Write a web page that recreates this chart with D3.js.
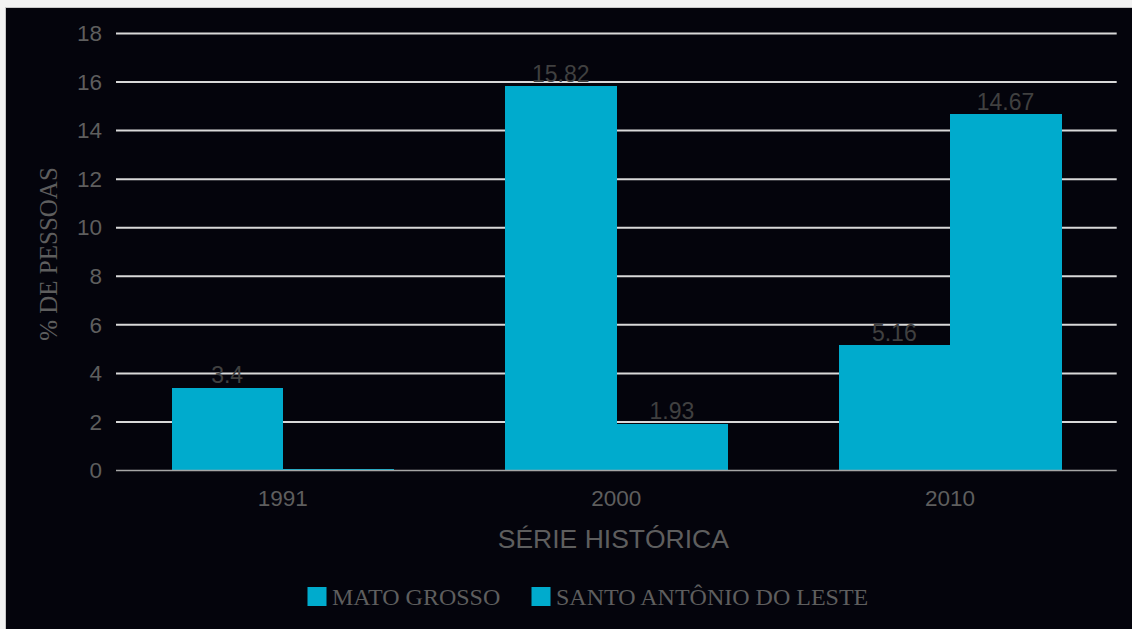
<!DOCTYPE html>
<html>
<head>
<meta charset="utf-8">
<script src="https://cdn.jsdelivr.net/npm/d3@7"></script>
<style>
  html, body { margin: 0; padding: 0; background: #ffffff; }
  svg { display: block; }
</style>
</head>
<body>
<svg id="chart" width="1132" height="629"></svg>
<script>
const categories = ["1991", "2000", "2010"];
const seriesNames = ["MATO GROSSO", "SANTO ANTÔNIO DO LESTE"];
const matoGrosso = [3.4, 15.82, 5.16];
const santoAntonio = [0.07, 1.93, 14.67];
const matoGrossoLabels = ["3.4", "15.82", "5.16"];
const santoAntonioLabels = [null, "1.93", "14.67"];
const yTicks = [0, 2, 4, 6, 8, 10, 12, 14, 16, 18];

const W = 1132, H = 629;
const svg = d3.select("#chart");

// background panel
svg.append("rect").attr("x", 0).attr("y", 0).attr("width", W).attr("height", H).attr("fill", "#f2f2f2");
svg.append("rect").attr("x", 5.5).attr("y", 7.5).attr("width", W).attr("height", H)
  .attr("fill", "#04040c").attr("stroke", "#c8c8c8").attr("stroke-width", 1);

const plot = { left: 116, right: 1116.7, top: 33.5, bottom: 470.5 };

const y = d3.scaleLinear().domain([0, 18]).range([plot.bottom, plot.top]);
const x0 = d3.scaleBand().domain(categories).range([plot.left, plot.right]).padding(0);
const x1 = d3.scaleBand().domain(seriesNames).range([0, x0.bandwidth()]).paddingInner(0).paddingOuter(0.5);

const barColor = "#00abcd";

// y axis labels
const yAxis = d3.axisLeft(y).tickValues(yTicks).tickSize(0).tickPadding(14).tickFormat(d3.format("d"));
const gAxis = svg.append("g").attr("transform", `translate(${plot.left},0)`).call(yAxis);
gAxis.select(".domain").remove();
gAxis.selectAll("text")
  .attr("fill", "#5e5e5e")
  .style("font-family", "'Liberation Sans', Arial, sans-serif")
  .style("font-size", "22.5px");

// gridlines
svg.append("g").selectAll("line").data(yTicks.filter(d => d !== 0)).join("line")
  .attr("x1", plot.left).attr("x2", plot.right)
  .attr("y1", d => y(d)).attr("y2", d => y(d))
  .attr("stroke", "#d9d9d9").attr("stroke-width", 2);

const data = categories.map((c, i) => ({
  cat: c,
  vals: [
    { s: seriesNames[0], v: matoGrosso[i], label: matoGrossoLabels[i] },
    { s: seriesNames[1], v: santoAntonio[i], label: santoAntonioLabels[i] }
  ]
}));

// bars
const groups = svg.append("g").selectAll("g").data(data).join("g")
  .attr("transform", d => `translate(${x0(d.cat)},0)`);
groups.selectAll("rect").data(d => d.vals).join("rect")
  .attr("x", d => x1(d.s))
  .attr("width", x1.bandwidth() + 0.5)
  .attr("y", d => y(d.v))
  .attr("height", d => y(0) - y(d.v))
  .attr("fill", barColor)
  .attr("shape-rendering", "crispEdges");

// zero line
svg.append("line")
  .attr("x1", plot.left).attr("x2", plot.right)
  .attr("y1", y(0)).attr("y2", y(0))
  .attr("stroke", "#a6a6a6").attr("stroke-width", 1.5);

// labels
groups.selectAll("text").data(d => d.vals.filter(v => v.label !== null)).join("text")
  .attr("x", d => x1(d.s) + x1.bandwidth() / 2)
  .attr("y", d => y(d.v) - 4.5)
  .attr("text-anchor", "middle")
  .attr("fill", "#404040")
  .style("font-family", "'Liberation Sans', Arial, sans-serif")
  .style("font-size", "23px")
  .text(d => d.label);

// x tick labels
const xAxis = d3.axisBottom(x0).tickSize(0).tickPadding(0);
const gx = svg.append("g").attr("transform", `translate(0,${plot.bottom})`).call(xAxis);
gx.select(".domain").remove();
gx.selectAll("text")
  .attr("y", 35.5).attr("dy", null)
  .attr("fill", "#5e5e5e")
  .style("font-family", "'Liberation Sans', Arial, sans-serif")
  .style("font-size", "22.5px");

// x title
svg.append("text")
  .attr("x", (plot.left + plot.right) / 2 - 3).attr("y", 548)
  .attr("text-anchor", "middle")
  .attr("fill", "#5e5e5e")
  .style("font-family", "'Liberation Sans', Arial, sans-serif")
  .style("font-size", "26.5px")
  .text("SÉRIE HISTÓRICA");

// y title
svg.append("text")
  .attr("transform", "translate(57,254) rotate(-90)")
  .attr("text-anchor", "middle")
  .attr("fill", "#5e5e5e")
  .style("font-family", "'Liberation Serif', 'Times New Roman', serif")
  .style("font-size", "25px")
  .text("% DE PESSOAS");

// legend
const legendX = [307.5, 531.5];
const legend = svg.append("g").selectAll("g").data(seriesNames).join("g")
  .attr("transform", (d, i) => `translate(${legendX[i]},587)`);
legend.append("rect").attr("width", 19).attr("height", 19).attr("fill", barColor);
legend.append("text")
  .attr("x", 24.5).attr("y", 18)
  .attr("fill", "#5e5e5e")
  .style("font-family", "'Liberation Serif', 'Times New Roman', serif")
  .style("font-size", "24px")
  .text(d => d);
</script>
</body>
</html>
